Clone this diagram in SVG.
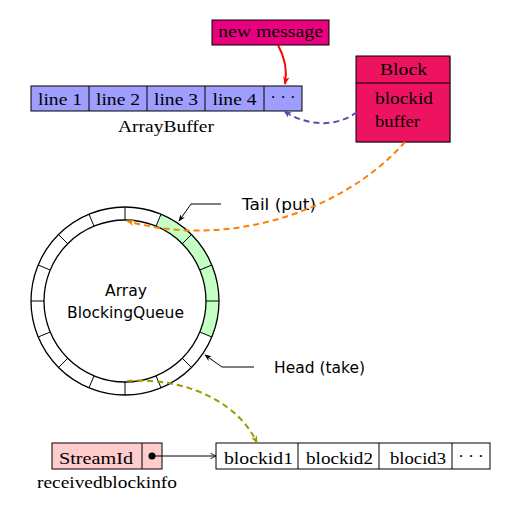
<svg xmlns="http://www.w3.org/2000/svg" width="505" height="509" viewBox="0 0 505 509">
<style>
.serif{font-family:"Liberation Serif","DejaVu Serif",serif;font-size:17px;fill:#000}
.sans{font-family:"DejaVu Sans","Liberation Sans",sans-serif;font-size:15px;fill:#000}
.box{stroke:#000;stroke-width:1}
.conn{fill:none;stroke-width:2}
</style>
<defs>
<marker id="ah" viewBox="0 0 10 10" refX="9" refY="5" markerWidth="8" markerHeight="8" orient="auto-start-reverse" markerUnits="userSpaceOnUse">
<path d="M0,1 L10,5 L0,9 L3,5 Z" fill="context-stroke"/>
</marker>
<marker id="ahs" viewBox="0 0 10 10" refX="9" refY="5" markerWidth="7" markerHeight="7" orient="auto" markerUnits="userSpaceOnUse">
<path d="M0,1 L10,5 L0,9 L3,5 Z" fill="#000"/>
</marker>
<marker id="ahv" viewBox="0 0 10 10" refX="9" refY="5" markerWidth="7" markerHeight="7" orient="auto" markerUnits="userSpaceOnUse">
<path d="M1,1 L9,5 L1,9" fill="none" stroke="#000" stroke-width="1.2"/>
</marker>
</defs>
<rect width="505" height="509" fill="#fff"/>

<g id="newmessage">
<rect class="box" x="212" y="20" width="117" height="25" fill="#EA007F"/>
<text class="serif" x="218" y="37" textLength="105" lengthAdjust="spacingAndGlyphs">new message</text>
</g>

<g id="arraybuffer">
<rect class="box" x="31" y="86" width="271" height="25" fill="#9E9EFF"/>
<line class="box" x1="89" y1="86" x2="89" y2="111"/>
<line class="box" x1="147" y1="86" x2="147" y2="111"/>
<line class="box" x1="205" y1="86" x2="205" y2="111"/>
<line class="box" x1="264" y1="86" x2="264" y2="111"/>
<text class="serif" x="38" y="105" textLength="44" lengthAdjust="spacingAndGlyphs">line 1</text>
<text class="serif" x="96" y="105" textLength="44" lengthAdjust="spacingAndGlyphs">line 2</text>
<text class="serif" x="154" y="105" textLength="44" lengthAdjust="spacingAndGlyphs">line 3</text>
<text class="serif" x="212.5" y="105" textLength="44" lengthAdjust="spacingAndGlyphs">line 4</text>
<text class="serif" x="283" y="103" text-anchor="middle">· · ·</text>
<text class="serif" x="118" y="132" textLength="96" lengthAdjust="spacingAndGlyphs">ArrayBuffer</text>
</g>

<g id="block">
<rect x="357" y="57" width="94" height="86" fill="#777" opacity="0.5"/>
<rect class="box" x="356" y="56" width="94" height="86" fill="#EE1360"/>
<line class="box" x1="356" y1="83" x2="450" y2="83"/>
<text class="serif" x="380" y="75" textLength="47" lengthAdjust="spacingAndGlyphs">Block</text>
<text class="serif" x="375" y="104" textLength="58" lengthAdjust="spacingAndGlyphs">blockid</text>
<text class="serif" x="375" y="127" textLength="45" lengthAdjust="spacingAndGlyphs">buffer</text>
</g>

<g id="queue">
<path d="M161,214.2 A94,94 0 0 1 211.8,337 L199.8,332 A81,81 0 0 0 156,226.2 Z" fill="#C4FFC4"/>
<circle cx="125" cy="301" r="94" fill="none" stroke="#000" stroke-width="1.3"/>
<circle cx="125" cy="301" r="81" fill="none" stroke="#000" stroke-width="1.3"/>
<g stroke="#000" stroke-width="1">
<line x1="125" y1="207" x2="125" y2="220"/>
<line x1="161" y1="214.2" x2="156" y2="226.2"/>
<line x1="191.5" y1="234.5" x2="182.3" y2="243.7"/>
<line x1="211.8" y1="265" x2="199.8" y2="270"/>
<line x1="219" y1="301" x2="206" y2="301"/>
<line x1="211.8" y1="337" x2="199.8" y2="332"/>
<line x1="191.5" y1="367.5" x2="182.3" y2="358.3"/>
<line x1="161" y1="387.8" x2="156" y2="375.8"/>
<line x1="125" y1="395" x2="125" y2="382"/>
<line x1="89" y1="387.8" x2="94" y2="375.8"/>
<line x1="58.5" y1="367.5" x2="67.7" y2="358.3"/>
<line x1="38.2" y1="337" x2="50.2" y2="332"/>
<line x1="31" y1="301" x2="44" y2="301"/>
<line x1="38.2" y1="265" x2="50.2" y2="270"/>
<line x1="58.5" y1="234.5" x2="67.7" y2="243.7"/>
<line x1="89" y1="214.2" x2="94" y2="226.2"/>
</g>
<text class="sans" x="105" y="296" textLength="42" lengthAdjust="spacingAndGlyphs">Array</text>
<text class="sans" x="67" y="318" textLength="117" lengthAdjust="spacingAndGlyphs">BlockingQueue</text>
</g>

<g id="tail">
<polyline points="221,204 191,204 179,221" fill="none" stroke="#000" stroke-width="1" marker-end="url(#ahs)"/>
<text class="sans" x="242" y="210" textLength="74" lengthAdjust="spacingAndGlyphs">Tail (put)</text>
</g>

<g id="head">
<polyline points="254,367 222,367 205,355" fill="none" stroke="#000" stroke-width="1" marker-end="url(#ahs)"/>
<text class="sans" x="274" y="373" textLength="91" lengthAdjust="spacingAndGlyphs">Head (take)</text>
</g>

<g id="receivedblockinfo">
<rect class="box" x="52" y="443" width="110" height="26" fill="#FFCCCC"/>
<line class="box" x1="142" y1="443" x2="142" y2="469"/>
<text class="serif" x="59" y="464" textLength="74" lengthAdjust="spacingAndGlyphs">StreamId</text>
<circle cx="152" cy="456" r="3.5" fill="#000"/>
<text class="serif" x="37" y="488" textLength="140" lengthAdjust="spacingAndGlyphs">receivedblockinfo</text>
</g>

<g id="blocklist">
<rect class="box" x="216" y="443" width="274" height="26" fill="#fff"/>
<line class="box" x1="298" y1="443" x2="298" y2="469"/>
<line class="box" x1="379" y1="443" x2="379" y2="469"/>
<line class="box" x1="452" y1="443" x2="452" y2="469"/>
<text class="serif" x="224" y="464" textLength="69" lengthAdjust="spacingAndGlyphs">blockid1</text>
<text class="serif" x="306" y="464" textLength="67" lengthAdjust="spacingAndGlyphs">blockid2</text>
<text class="serif" x="390" y="464" textLength="56" lengthAdjust="spacingAndGlyphs">blocid3</text>
<text class="serif" x="471" y="462" text-anchor="middle">· · ·</text>
</g>

<g id="connectors">
<path class="conn" d="M278,45 C284,56 288,68 285,84" stroke="#FF0000" stroke-width="1.3" marker-end="url(#ah)"/>
<path class="conn" d="M357,112 C336,128 306,126 284,111" stroke="#6A44B0" stroke-width="1.5" stroke-dasharray="6,4" marker-end="url(#ah)"/>
<path class="conn" d="M405,142 C345,210 230,250 127,221" stroke="#FF8000" stroke-dasharray="6,4" marker-end="url(#ah)"/>
<path class="conn" d="M127,381 C190,377 240,405 257,443" stroke="#999900" stroke-dasharray="6,4" marker-end="url(#ah)"/>
<line x1="155" y1="456" x2="216" y2="456" stroke="#000" stroke-width="1" marker-end="url(#ahv)"/>
</g>
</svg>
